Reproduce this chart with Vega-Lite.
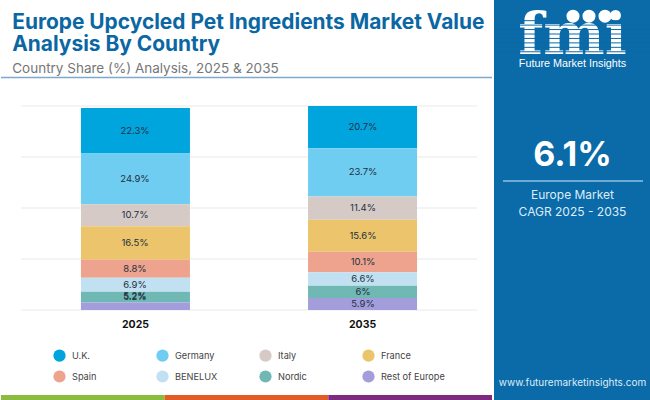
{
  "$schema": "https://vega.github.io/schema/vega-lite/v6.json",
  "padding": 0,
  "background": "white",
  "spacing": 0,
  "resolve": {"scale": {"color": "independent"}},
  "config": {"view": {"stroke": null}},
  "datasets": {
    "shares": [
      {"year": "2025", "country": "U.K.", "rank": 1, "share": 22.3, "label": "22.3%"},
      {"year": "2025", "country": "Germany", "rank": 2, "share": 24.9, "label": "24.9%"},
      {"year": "2025", "country": "Italy", "rank": 3, "share": 10.7, "label": "10.7%"},
      {"year": "2025", "country": "France", "rank": 4, "share": 16.5, "label": "16.5%"},
      {"year": "2025", "country": "Spain", "rank": 5, "share": 8.8, "label": "8.8%"},
      {"year": "2025", "country": "BENELUX", "rank": 6, "share": 6.9, "label": "6.9%"},
      {"year": "2025", "country": "Nordic", "rank": 7, "share": 5.2, "label": "5.2%"},
      {"year": "2025", "country": "Rest of Europe", "rank": 8, "share": 3.7, "label": "5.2%"},
      {"year": "2035", "country": "U.K.", "rank": 1, "share": 20.7, "label": "20.7%"},
      {"year": "2035", "country": "Germany", "rank": 2, "share": 23.7, "label": "23.7%"},
      {"year": "2035", "country": "Italy", "rank": 3, "share": 11.4, "label": "11.4%"},
      {"year": "2035", "country": "France", "rank": 4, "share": 15.6, "label": "15.6%"},
      {"year": "2035", "country": "Spain", "rank": 5, "share": 10.1, "label": "10.1%"},
      {"year": "2035", "country": "BENELUX", "rank": 6, "share": 6.6, "label": "6.6%"},
      {"year": "2035", "country": "Nordic", "rank": 7, "share": 6, "label": "6%"},
      {"year": "2035", "country": "Rest of Europe", "rank": 8, "share": 5.9, "label": "5.9%"}
    ]
  },
  "hconcat": [
    {
      "spacing": 0,
      "bounds": "flush",
      "resolve": {"scale": {"color": "independent"}},
      "vconcat": [
        {
          "width": 491,
          "height": 395,
          "title": {
            "text": ["Europe Upcycled Pet Ingredients Market Value", "Analysis By Country"],
            "subtitle": "Country Share (%) Analysis, 2025 & 2035",
            "anchor": "start",
            "dx": 12,
            "offset": -75,
            "font": "Inter",
            "fontSize": 20.9,
            "fontWeight": 700,
            "lineHeight": 22,
            "color": "#0b67a3",
            "subtitleFont": "Inter",
            "subtitleFontSize": 13.5,
            "subtitleColor": "#777777",
            "subtitlePadding": 7
          },
          "layer": [
            {
              "data": {"values": [{"tick": 0}, {"tick": 25}, {"tick": 50}, {"tick": 75}, {"tick": 100}]},
              "mark": {"type": "rule", "color": "#e9e9e9", "strokeWidth": 1},
              "encoding": {
                "x": {"datum": 0, "type": "quantitative", "axis": null, "scale": {"domain": [0, 1], "range": [20, 476]}},
                "x2": {"datum": 1},
                "y": {"field": "tick", "type": "quantitative", "axis": null, "scale": {"domain": [0, 100], "range": [310, 106], "nice": false}}
              }
            },
            {
              "data": {"values": [{"line": 114}]},
              "mark": {"type": "rule", "color": "#7ea9cc", "strokeWidth": 1.5},
              "encoding": {
                "y": {"field": "line", "type": "quantitative", "axis": null}
              }
            },
            {
              "data": {"name": "shares"},
              "mark": {"type": "bar"},
              "encoding": {
                "x": {
                  "field": "year",
                  "type": "nominal",
                  "scale": {"range": [20, 476], "paddingInner": 0.52, "paddingOuter": 0.264},
                  "axis": {
                    "title": null,
                    "domain": false,
                    "ticks": false,
                    "grid": false,
                    "labelAngle": 0,
                    "labelFont": "Inter",
                    "labelFontSize": 10.5,
                    "labelFontWeight": 700,
                    "labelColor": "#111111",
                    "labelPadding": 0,
                    "offset": -76
                  }
                },
                "y": {"field": "share", "type": "quantitative", "stack": "zero", "axis": null},
                "color": {
                  "field": "country",
                  "type": "nominal",
                  "scale": {
                    "domain": ["U.K.", "Germany", "Italy", "France", "Spain", "BENELUX", "Nordic", "Rest of Europe"],
                    "range": ["#00a5de", "#6fcdf2", "#d5cac6", "#ebc46b", "#eda38d", "#c1e0f1", "#6fb8b4", "#a39ddb"]
                  },
                  "legend": {
                    "title": null,
                    "orient": "none",
                    "direction": "horizontal",
                    "legendX": 52,
                    "legendY": 349,
                    "columns": 4,
                    "symbolType": "circle",
                    "symbolSize": 150,
                    "symbolStrokeWidth": 0,
                    "labelFont": "Inter",
                    "labelFontSize": 9.2,
                    "labelColor": "#444444",
                    "labelOffset": 6,
                    "columnPadding": 20,
                    "rowPadding": 8,
                    "gridAlign": "all"
                  }
                },
                "order": {"field": "rank", "sort": "descending"}
              }
            },
            {
              "data": {"name": "shares"},
              "mark": {"type": "text", "font": "Inter", "fontSize": 9.5, "color": "#22303f", "baseline": "middle"},
              "encoding": {
                "x": {
                  "field": "year",
                  "type": "nominal",
                  "axis": null,
                  "scale": {"range": [20, 476], "paddingInner": 0.52, "paddingOuter": 0.264}
                },
                "y": {"field": "share", "type": "quantitative", "stack": "zero", "bandPosition": 0.5, "axis": null},
                "text": {"field": "label", "type": "nominal"},
                "detail": {"field": "country"},
                "order": {"field": "rank", "sort": "descending"},
                "opacity": {
                  "condition": {"test": "datum.country === 'Rest of Europe' && datum.year === '2025'", "value": 0},
                  "value": 1
                }
              }
            },
            {
              "data": {"name": "shares"},
              "transform": [{"filter": "datum.country === 'Rest of Europe' && datum.year === '2025'"}],
              "mark": {"type": "text", "font": "Inter", "fontSize": 9.5, "color": "#22303f", "baseline": "middle", "dy": -10},
              "encoding": {
                "x": {
                  "field": "year",
                  "type": "nominal",
                  "axis": null,
                  "scale": {"domain": ["2025", "2035"], "range": [20, 476], "paddingInner": 0.52, "paddingOuter": 0.264}
                },
                "y": {"field": "share", "type": "quantitative", "stack": "zero", "bandPosition": 0.5, "axis": null},
                "text": {"field": "label", "type": "nominal"}
              }
            }
          ],
          "resolve": {"scale": {"x": "independent"}}
        },
        {
          "width": 491,
          "height": 5,
          "data": {"values": [{"segment": "a"}, {"segment": "b"}, {"segment": "c"}]},
          "mark": {"type": "bar"},
          "encoding": {
            "x": {"field": "segment", "type": "nominal", "axis": null, "scale": {"paddingInner": 0, "paddingOuter": 0}},
            "color": {
              "field": "segment",
              "type": "nominal",
              "legend": null,
              "scale": {"domain": ["a", "b", "c"], "range": ["#8bbb3f", "#e25c28", "#7e2a80"]}
            }
          }
        }
      ]
    },
    {
      "spacing": 0,
      "bounds": "flush",
      "vconcat": [
        {
          "width": 157,
          "height": 58,
          "view": {"fill": "#0b6aa8", "stroke": null},
          "layer": [
            {
              "data": {"values": [{"name": "fmi"}]},
              "mark": {"type": "text", "font": "DejaVu Serif", "fontWeight": 700, "fontSize": 58, "color": "white", "baseline": "middle", "dy": 8},
              "encoding": {"text": {"field": "name", "type": "nominal"}}
            },
            {
              "data": {"values": [{"row": "s1"}, {"row": "s2"}, {"row": "s3"}, {"row": "s4"}, {"row": "s5"}, {"row": "s6"}, {"row": "s7"}, {"row": "s8"}]},
              "mark": {"type": "rule", "color": "#0b6aa8", "strokeWidth": 1},
              "encoding": {
                "y": {
                  "field": "row",
                  "type": "nominal",
                  "axis": null,
                  "scale": {"type": "point", "domain": ["g", "s1", "s2", "s3", "s4", "s5", "s6", "s7", "s8"], "range": [14, 54]}
                }
              }
            },
            {
              "data": {"values": [{"globe": "a", "row": "g"}, {"globe": "b", "row": "g"}, {"globe": "c", "row": "g"}]},
              "mark": {"type": "point", "filled": true, "color": "white", "opacity": 1, "size": 170},
              "encoding": {
                "x": {"field": "globe", "type": "nominal", "axis": null, "scale": {"type": "point", "range": [71, 119]}},
                "y": {"field": "row", "type": "nominal", "axis": null}
              }
            }
          ]
        },
        {
          "width": 157,
          "height": 12,
          "view": {"fill": "#0b6aa8", "stroke": null},
          "data": {"values": [{"name": "Future Market Insights"}]},
          "mark": {"type": "text", "font": "Liberation Sans", "fontSize": 10.8, "color": "white", "baseline": "middle"},
          "encoding": {"text": {"field": "name", "type": "nominal"}}
        },
        {
          "width": 157,
          "height": 63,
          "view": {"fill": "#0b6aa8", "stroke": null},
          "data": {"values": []},
          "mark": {"type": "text"}
        },
        {
          "width": 157,
          "height": 45,
          "view": {"fill": "#0b6aa8", "stroke": null},
          "data": {"values": [{"name": "6.1%"}]},
          "mark": {"type": "text", "font": "Inter", "fontWeight": 700, "fontSize": 34, "color": "white", "baseline": "middle"},
          "encoding": {"text": {"field": "name", "type": "nominal"}}
        },
        {
          "width": 157,
          "height": 6,
          "view": {"fill": "#0b6aa8", "stroke": null},
          "data": {"values": [{"line": "divider"}]},
          "mark": {"type": "rule", "color": "#8fc1e3", "strokeWidth": 1.5},
          "encoding": {
            "x": {"datum": 0, "type": "quantitative", "axis": null, "scale": {"domain": [0, 1], "range": [9, 149]}},
            "x2": {"datum": 1}
          }
        },
        {
          "width": 157,
          "height": 22,
          "view": {"fill": "#0b6aa8", "stroke": null},
          "data": {"values": [{"name": "Europe Market"}]},
          "mark": {"type": "text", "font": "Inter", "fontSize": 12, "color": "#dcedf8", "baseline": "middle"},
          "encoding": {"text": {"field": "name", "type": "nominal"}}
        },
        {
          "width": 157,
          "height": 12,
          "view": {"fill": "#0b6aa8", "stroke": null},
          "data": {"values": [{"name": "CAGR 2025 - 2035"}]},
          "mark": {"type": "text", "font": "Inter", "fontSize": 12, "color": "#dcedf8", "baseline": "middle"},
          "encoding": {"text": {"field": "name", "type": "nominal"}}
        },
        {
          "width": 157,
          "height": 158,
          "view": {"fill": "#0b6aa8", "stroke": null},
          "data": {"values": []},
          "mark": {"type": "text"}
        },
        {
          "width": 157,
          "height": 14,
          "view": {"fill": "#0b6aa8", "stroke": null},
          "data": {"values": [{"name": "www.futuremarketinsights.com"}]},
          "mark": {"type": "text", "font": "Inter", "fontSize": 10, "color": "#dcedf8", "baseline": "middle"},
          "encoding": {"text": {"field": "name", "type": "nominal"}}
        },
        {
          "width": 157,
          "height": 10,
          "view": {"fill": "#0b6aa8", "stroke": null},
          "data": {"values": []},
          "mark": {"type": "text"}
        }
      ]
    }
  ]
}
